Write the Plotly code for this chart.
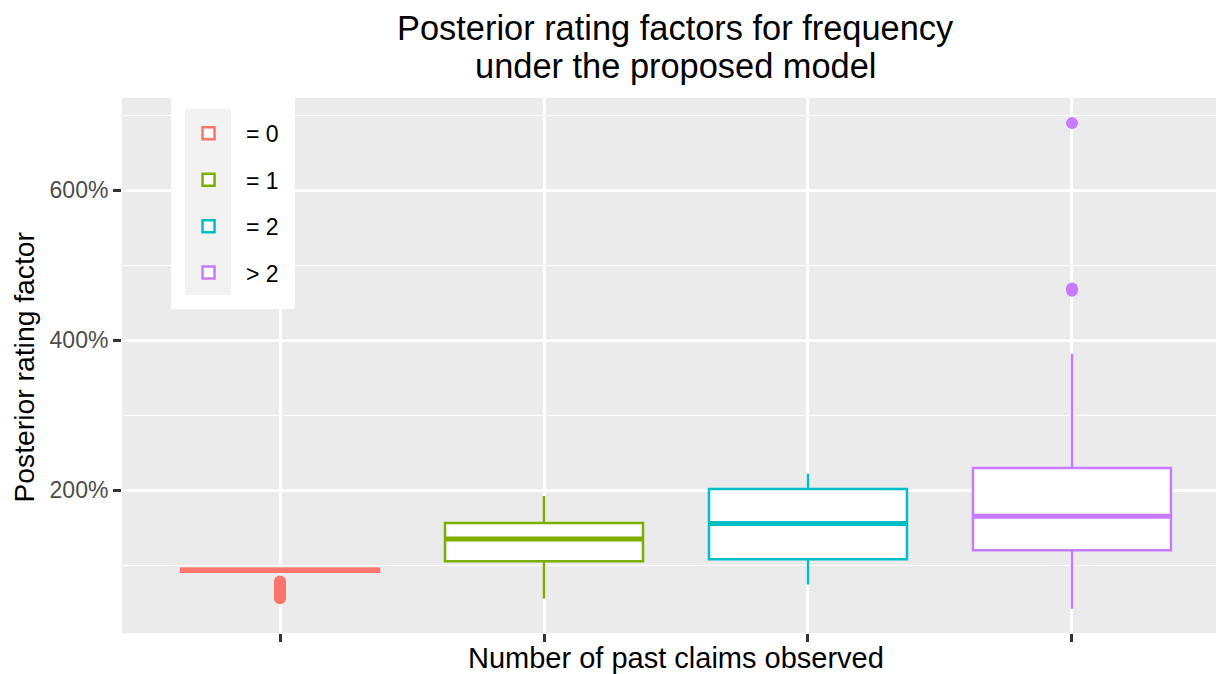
import plotly.graph_objects as go

# ---- data (values are rating factors, 1.0 = 100%) ----
groups = ["= 0", "= 1", "= 2", "> 2"]
positions = [1, 2, 3, 4]
colors = ["#F8766D", "#7CAE00", "#00BFC4", "#C77CFF"]

q1 = [0.915, 1.053, 1.080, 1.200]
median = [0.933, 1.350, 1.556, 1.653]
q3 = [0.955, 1.564, 2.017, 2.297]
lower_whisker = [0.915, 0.556, 0.743, 0.420]
upper_whisker = [0.955, 1.924, 2.220, 3.820]

outliers_0 = [0.560, 0.580, 0.600, 0.620, 0.640, 0.660, 0.680, 0.700, 0.720, 0.740, 0.760, 0.785]
outliers_1 = []
outliers_2 = []
outliers_3 = [4.660, 4.690, 6.896]
outliers = [outliers_0, outliers_1, outliers_2, outliers_3]

y_tick_vals = [2, 4, 6]
y_minor_vals = [1, 3, 5, 7]

BOX_W = 0.75
FONT = "Liberation Sans, Arial, sans-serif"

fig = go.Figure()

for i, g in enumerate(groups):
    fig.add_trace(go.Box(
        name=g,
        x=[positions[i]],
        q1=[q1[i]], median=[median[i]], q3=[q3[i]],
        lowerfence=[lower_whisker[i]], upperfence=[upper_whisker[i]],
        width=BOX_W,
        boxpoints=False,
        whiskerwidth=0,
        fillcolor="white",
        line=dict(color=colors[i], width=2.5),
        legendgroup=g,
        showlegend=True,
        hoverinfo="skip",
    ))
    # thicker median line, as in ggplot
    fig.add_trace(go.Scatter(
        x=[positions[i] - BOX_W / 2, positions[i] + BOX_W / 2],
        y=[median[i], median[i]],
        mode="lines",
        line=dict(color=colors[i], width=5),
        showlegend=False, legendgroup=g, hoverinfo="skip",
    ))
    if outliers[i]:
        fig.add_trace(go.Scatter(
            x=[positions[i]] * len(outliers[i]),
            y=outliers[i],
            mode="markers",
            marker=dict(color=colors[i], size=12),
            showlegend=False, legendgroup=g, hoverinfo="skip",
        ))

fig.update_layout(
    width=1216, height=666,
    margin=dict(l=114, r=0, t=90, b=41),
    paper_bgcolor="white",
    plot_bgcolor="#EBEBEB",
    font=dict(family=FONT, size=23, color="#4D4D4D"),
    showlegend=True,
    legend=dict(
        x=0.0445, y=0.974, xanchor="left", yanchor="top",
        bgcolor="rgba(0,0,0,0)",
        font=dict(family=FONT, size=23, color="black"),
        tracegroupgap=13.5,
        itemwidth=65,
        traceorder="grouped",
    ),
    shapes=[
        # legend background (white) and key background (light grey), like ggplot
        dict(type="rect", xref="paper", yref="paper", x0=0.0445, x1=0.157, y0=0.6056, y1=1.0,
             fillcolor="white", line=dict(width=0), layer="above"),
        dict(type="rect", xref="paper", yref="paper", x0=0.0572, x1=0.0989, y0=0.6318, y1=0.9794,
             fillcolor="#F2F2F2", line=dict(width=0), layer="above"),
    ],
    xaxis=dict(
        range=[0.4015, 4.5758],
        tickvals=positions,
        showticklabels=False,
        ticks="outside", ticklen=8, tickwidth=2.5, tickcolor="#333333",
        showgrid=True, gridcolor="white", gridwidth=3,
        zeroline=False, showline=False,
    ),
    yaxis=dict(
        range=[0.097, 7.231],
        tickvals=y_tick_vals,
        tickformat=".0%",
        ticks="outside", ticklen=8, tickwidth=2.5, tickcolor="#333333",
        tickfont=dict(family=FONT, size=23, color="#4D4D4D"),
        showgrid=True, gridcolor="white", gridwidth=3,
        minor=dict(tickvals=y_minor_vals, showgrid=True, gridcolor="white", gridwidth=1.4, ticks=""),
        zeroline=False, showline=False,
    ),
    annotations=[
        dict(text="Posterior rating factors for frequency", xref="paper", yref="paper",
             x=0.5025, y=1, yshift=70, xanchor="center", yanchor="middle", showarrow=False,
             font=dict(family=FONT, size=34.4, color="black")),
        dict(text="under the proposed model", xref="paper", yref="paper",
             x=0.5025, y=1, yshift=32, xanchor="center", yanchor="middle", showarrow=False,
             font=dict(family=FONT, size=34.4, color="black")),
        dict(text="Number of past claims observed", xref="paper", yref="paper",
             x=0.5025, y=0, yshift=-25, xanchor="center", yanchor="middle", showarrow=False,
             font=dict(family=FONT, size=29, color="black")),
        dict(text="Posterior rating factor", xref="paper", yref="paper",
             x=0, xshift=-99, y=0.5, yshift=-2, xanchor="center", yanchor="middle",
             textangle=-90, showarrow=False,
             font=dict(family=FONT, size=28.3, color="black")),
    ],
)

fig.write_html("out.html")
